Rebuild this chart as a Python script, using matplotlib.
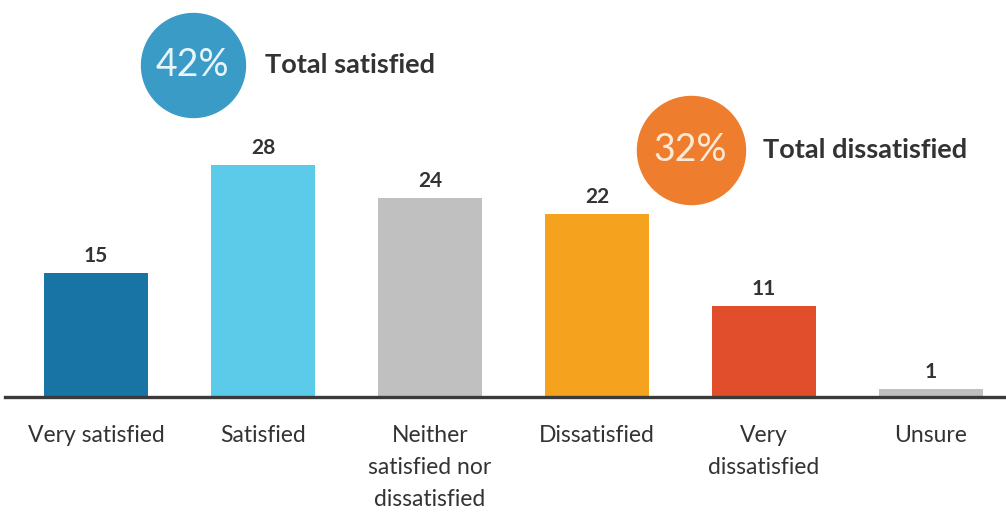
import matplotlib

matplotlib.use("Agg")
import matplotlib.pyplot as plt

categories = [
    "Very satisfied",
    "Satisfied",
    "Neither\nsatisfied nor\ndissatisfied",
    "Dissatisfied",
    "Very\ndissatisfied",
    "Unsure",
]
values = [15, 28, 24, 22, 11, 1]
bar_colors = ["#1874a4", "#5ccbea", "#c0c0c0", "#f5a21f", "#e04e2c", "#c0c0c0"]

total_labels = ["42%", "32%"]
total_texts = ["Total satisfied", "Total dissatisfied"]

plt.rcParams["font.family"] = ["Lato", "DejaVu Sans"]

fig = plt.figure(figsize=(10.06, 5.19), dpi=100)
ax = fig.add_axes([5 / 1006, 122 / 519, 1001 / 1006, 397 / 519])

px_per_unit = 8.3
ax.set_xlim(-91 / 167, 910 / 167)
ax.set_ylim(0, 397 / px_per_unit)

x = list(range(len(categories)))
bars = ax.bar(x, values, width=0.62, color=bar_colors, zorder=2)

for bar, v in zip(bars, values):
    ax.annotate(
        str(v),
        (bar.get_x() + bar.get_width() / 2, bar.get_height()),
        xytext=(0, 5),
        textcoords="offset points",
        ha="center",
        va="bottom",
        fontsize=15,
        fontweight="bold",
        color="#333333",
    )

ax.set_xticks(x)
ax.set_xticklabels(categories, fontsize=16.5, color="#333333", linespacing=1.65)
ax.tick_params(axis="x", length=0, pad=20)
ax.set_yticks([])

for side in ["top", "left", "right"]:
    ax.spines[side].set_visible(False)
ax.spines["bottom"].set_linewidth(2.4)
ax.spines["bottom"].set_color("#3a3a3a")

# summary bubbles
bubbles = [
    (0.58, 40.0, 5600, "#3a9bc6", "#e8f6fb"),
    (3.56, 29.8, 6050, "#ef7d2e", "#fde9d7"),
]
for (bx, by, size, col, tcol), lab, txt in zip(bubbles, total_labels, total_texts):
    ax.scatter([bx], [by], s=size, color=col, zorder=3, clip_on=False)
    ax.text(bx, by, lab, ha="center", va="center", fontsize=27,
            color=tcol, zorder=4)
    ax.annotate(
        txt,
        (bx, by),
        xytext=(52, 0),
        textcoords="offset points",
        ha="left",
        va="center",
        fontsize=19.5,
        fontweight="bold",
        color="#333333",
    )

fig.savefig("out.png", dpi=100)
